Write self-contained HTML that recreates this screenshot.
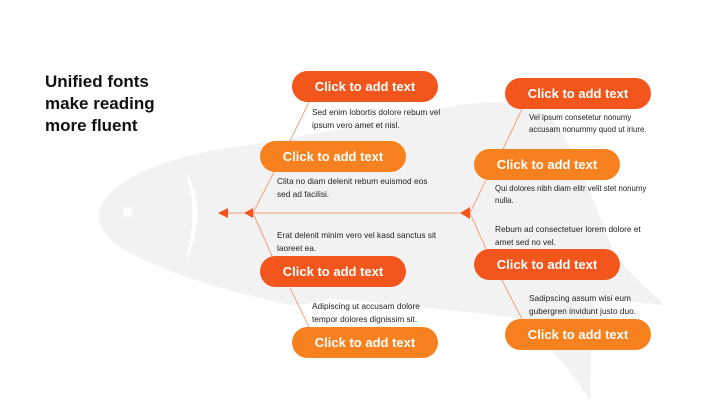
<!DOCTYPE html>
<html><head><meta charset="utf-8"><style>
body{margin:0;width:720px;height:405px;background:#fff;position:relative;overflow:hidden;font-family:"Liberation Sans",Arial,sans-serif}
.t{position:absolute;left:45px;top:71px;font-size:17px;font-weight:bold;line-height:22px;color:#111}
.p{position:absolute;width:146px;height:31px;border-radius:16px;color:#fff;font-weight:bold;font-size:13px;line-height:31px;text-align:center}
.d{background:#f2561d}.l{background:#f8811f}
.x{position:absolute;font-size:8.3px;line-height:13px;color:#222}
svg{position:absolute;left:0;top:0}
</style></head><body>
<svg width="720" height="405">
<path d="M99,212 C105,185 150,160 230,148 C320,135 400,115 460,105 C510,98 545,105 560,130 C585,170 600,220 615,255 C635,280 655,295 665,305 C640,303 615,300 595,297 C592,330 590,370 590,400 C570,370 545,340 520,318 C470,312 400,305 330,298 C310,305 290,308 270,300 C220,290 160,270 125,250 C105,238 97,225 99,212Z" fill="#f2f2f2"/>
<circle cx="128" cy="212" r="5" fill="#fff"/>
<path d="M185,170 Q210,212 185,262 Q200,212 185,170Z" fill="#fff"/>
<g stroke="#f58a5a" stroke-width="0.8" fill="none">
<line x1="228" y1="213" x2="470" y2="213"/>
<line x1="253" y1="213" x2="274" y2="172"/>
<line x1="290" y1="141" x2="309" y2="102"/>
<line x1="253" y1="213" x2="272" y2="256"/>
<line x1="290" y1="288" x2="309" y2="327"/>
<line x1="470" y1="213" x2="486" y2="180"/>
<line x1="503" y1="149" x2="522" y2="109"/>
<line x1="470" y1="213" x2="486" y2="249"/>
<line x1="502" y1="280" x2="522" y2="319"/>
</g>
<polygon points="218,213 228,208 228,218" fill="#f2561d"/>
<polygon points="244,213 253,208 253,218" fill="#f2561d"/>
<polygon points="460,213 470,207 470,219" fill="#f2561d"/>
</svg>
<div class="t">Unified fonts<br>make reading<br>more fluent</div>
<div class="p d" style="left:292px;top:71px">Click to add text</div>
<div class="p l" style="left:260px;top:141px">Click to add text</div>
<div class="p d" style="left:260px;top:256px">Click to add text</div>
<div class="p l" style="left:292px;top:327px">Click to add text</div>
<div class="p d" style="left:505px;top:78px">Click to add text</div>
<div class="p l" style="left:474px;top:149px">Click to add text</div>
<div class="p d" style="left:474px;top:249px">Click to add text</div>
<div class="p l" style="left:505px;top:319px">Click to add text</div>
<div class="x" style="left:312px;top:106px">Sed enim lobortis dolore rebum vel<br>ipsum vero amet et nisl.</div>
<div class="x" style="left:277px;top:175px">Clita no diam delenit rebum euismod eos<br>sed ad facilisi.</div>
<div class="x" style="left:277px;top:229px">Erat delenit minim vero vel kasd sanctus sit<br>laoreet ea.</div>
<div class="x" style="left:312px;top:300px">Adipiscing ut accusam dolore<br>tempor dolores dignissim sit.</div>
<div class="x" style="left:529px;top:112px;font-size:7.8px;line-height:12px">Vel ipsum consetetur nonumy<br>accusam nonummy quod ut iriure.</div>
<div class="x" style="left:495px;top:183px;font-size:7.8px;line-height:12px">Qui dolores nibh diam elitr velit stet nonumy<br>nulla.</div>
<div class="x" style="left:495px;top:223px">Rebum ad consectetuer lorem dolore et<br>amet sed no vel.</div>
<div class="x" style="left:529px;top:292px">Sadipscing assum wisi eum<br>gubergren invidunt justo duo.</div>
</body></html>
